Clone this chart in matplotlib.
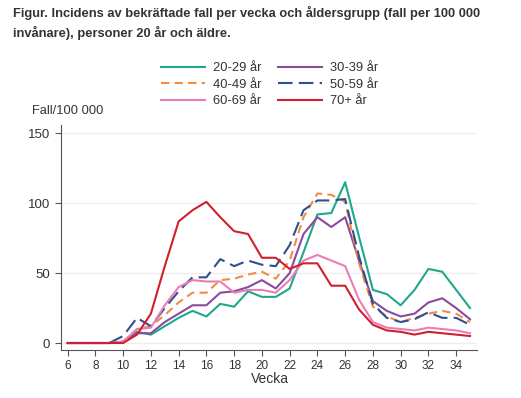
import numpy as np
import matplotlib.pyplot as plt

plt.rcParams['font.family'] = ['Liberation Sans', 'DejaVu Sans']

weeks = np.arange(6, 36)

age_20_29 = [0, 0, 0, 0, 1, 8, 6, 12, 18, 23, 19, 28, 26, 37, 33,
             33, 39, 65, 92, 93, 115, 76, 38, 35, 27, 38, 53, 51, 38, 25]
age_30_39 = [0, 0, 0, 0, 1, 7, 7, 15, 21, 27, 27, 36, 37, 40, 45,
             39, 50, 78, 90, 83, 90, 59, 30, 23, 19, 21, 29, 32, 25, 17]
age_40_49 = [0, 0, 0, 0, 1, 10, 12, 20, 29, 36, 36, 45, 46, 49, 51,
             46, 59, 90, 107, 106, 101, 57, 26, 19, 15, 18, 21, 23, 21, 15]
age_50_59 = [0, 0, 0, 0, 5, 18, 12, 25, 37, 47, 47, 60, 55, 59, 56,
             55, 70, 95, 102, 102, 103, 62, 28, 18, 15, 17, 22, 18, 18, 13]
age_60_69 = [0, 0, 0, 0, 1, 10, 11, 27, 40, 45, 44, 44, 36, 38, 38,
             36, 45, 59, 63, 59, 55, 31, 15, 11, 10, 9, 11, 10, 9, 7]
age_70 = [0, 0, 0, 0, 0, 6, 21, 55, 87, 95, 101, 90, 80, 78, 61,
          61, 53, 57, 57, 41, 41, 24, 13, 9, 8, 6, 8, 7, 6, 5]

labels = ['20-29 år', '30-39 år', '40-49 år', '50-59 år', '60-69 år', '70+ år']
colors = ['#1fa88a', '#8b4a9c', '#f08c44', '#2f4f8f', '#ea7db5', '#d0202e']
styles = ['-', '-', (0, (4, 2.5)), (0, (7, 3)), '-', '-']
series = [age_20_29, age_30_39, age_40_49, age_50_59, age_60_69, age_70]

fig = plt.figure(figsize=(5.21, 3.98), dpi=100)
ax = fig.add_axes([0.1165, 0.1206, 0.799, 0.5654])

handles = []
for vals, lab, col, ls in zip(series, labels, colors, styles):
    h, = ax.plot(weeks, vals, color=col, linestyle=ls, linewidth=1.5, label=lab)
    handles.append(h)

ax.set_xlim(5.5, 35.5)
ax.set_ylim(-5, 156)
ax.set_xticks(np.arange(6, 35, 2))
ax.set_yticks([0, 50, 100, 150])
ax.yaxis.grid(True, color='#eeeeee', linewidth=1)
ax.set_axisbelow(True)
for s in ['top', 'right']:
    ax.spines[s].set_visible(False)
for s in ['left', 'bottom']:
    ax.spines[s].set_color('#555555')
ax.tick_params(colors='#555555', labelcolor='#333333', labelsize=9.5, length=4)
ax.tick_params(axis='x', labelsize=8.5)

fig.text(0.025, 0.985, 'Figur. Incidens av bekräftade fall per vecka och åldersgrupp (fall per 100 000\ninvånare), personer 20 år och äldre.',
         fontsize=9.3, fontweight='bold', color='#333333', va='top', ha='left',
         linespacing=1.5)
fig.text(0.061, 0.722, 'Fall/100 000', fontsize=9.3, color='#333333', ha='left', va='center')
fig.text(0.518, 0.048, 'Vecka', fontsize=10, color='#333333', ha='center', va='center')

order = [0, 2, 4, 1, 3, 5]
fig.legend([handles[i] for i in order], [labels[i] for i in order],
           ncol=2, loc='center', bbox_to_anchor=(0.518, 0.787), frameon=False,
           fontsize=9.3, handlelength=3.4, columnspacing=1.3, labelspacing=0.33,
           handletextpad=0.6, labelcolor='#333333')

fig.savefig('out.png', dpi=100)
